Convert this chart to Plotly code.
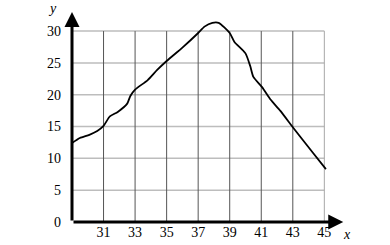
import plotly.graph_objects as go

# curve data
x_vals = [29.0, 29.5, 30.1, 30.6, 31.0, 31.4, 31.9, 32.5, 32.7, 33.0, 33.8, 34.4, 35.0, 36.0,
          37.0, 37.4, 37.9, 38.3, 39.0, 39.3, 40.0, 40.3, 40.5, 41.05, 41.6, 42.2, 43.0, 44.3, 45.1]
y_vals = [12.4, 13.2, 13.7, 14.3, 15.1, 16.6, 17.3, 18.6, 19.8, 20.8, 22.3, 23.9, 25.3, 27.4,
          29.7, 30.7, 31.3, 31.3, 29.7, 28.3, 26.5, 24.5, 22.8, 21.2, 19.2, 17.5, 14.9, 10.8, 8.3]

x_ticks = [31, 33, 35, 37, 39, 41, 43, 45]
y_ticks = [0, 5, 10, 15, 20, 25, 30]
x_min, x_max = 29, 45
y_min, y_max = 0, 30

font = dict(family="Liberation Serif", size=14, color="black")

fig = go.Figure()

shapes = []
for yv in y_ticks[1:]:
    shapes.append(dict(type="line", xref="x", yref="y", x0=x_min, x1=x_max, y0=yv, y1=yv,
                       line=dict(color="#bdbdbd", width=1.5), layer="below"))
for xv in x_ticks:
    shapes.append(dict(type="line", xref="x", yref="y", x0=xv, x1=xv, y0=y_min, y1=y_max,
                       line=dict(color="#a8a8a8" if xv == x_max else "#555555", width=1), layer="below"))

fig.add_trace(go.Scatter(x=x_vals, y=y_vals, mode="lines",
                         line=dict(color="black", width=1.8, shape="spline", smoothing=0.6),
                         hoverinfo="skip", showlegend=False))

W, H = 390, 245
L, R, T, B = 72, 42, 12, 23
pw, ph = W - L - R, H - T - B

annotations = [
    dict(x=46.2, y=0, ax=x_min, ay=0, xref="x", yref="y", axref="x", ayref="y",
         showarrow=True, arrowhead=2, arrowsize=1, arrowwidth=3, arrowcolor="black", text=""),
    dict(x=x_min, y=33, ax=x_min, ay=0, xref="x", yref="y", axref="x", ayref="y",
         showarrow=True, arrowhead=2, arrowsize=1, arrowwidth=3, arrowcolor="black", text=""),
]
for txt, px, py in [("<i>x</i>", 347, 234), ("<i>y</i>", 52, 8)]:
    annotations.append(dict(x=(px - L) / pw, y=1 - (py - T) / ph, xref="paper", yref="paper",
                            xanchor="center", yanchor="middle",
                            text=txt, showarrow=False, font=font))

fig.update_layout(
    width=W, height=H,
    margin=dict(l=L, r=R, t=T, b=B, pad=0, autoexpand=False),
    paper_bgcolor="white", plot_bgcolor="white",
    shapes=shapes, annotations=annotations,
    font=font,
    xaxis=dict(range=[x_min, 46.5], tickvals=x_ticks, ticktext=[str(v) for v in x_ticks],
               showgrid=False, zeroline=False, showline=False, ticks="", ticklabelstandoff=0,
               tickfont=font, fixedrange=True, automargin=False),
    yaxis=dict(range=[y_min, 33], tickvals=y_ticks, ticktext=[str(v) for v in y_ticks],
               showgrid=False, zeroline=False, showline=False, ticks="", ticklabelstandoff=10,
               tickfont=font, fixedrange=True, automargin=False),
)

fig.write_html("out.html")
